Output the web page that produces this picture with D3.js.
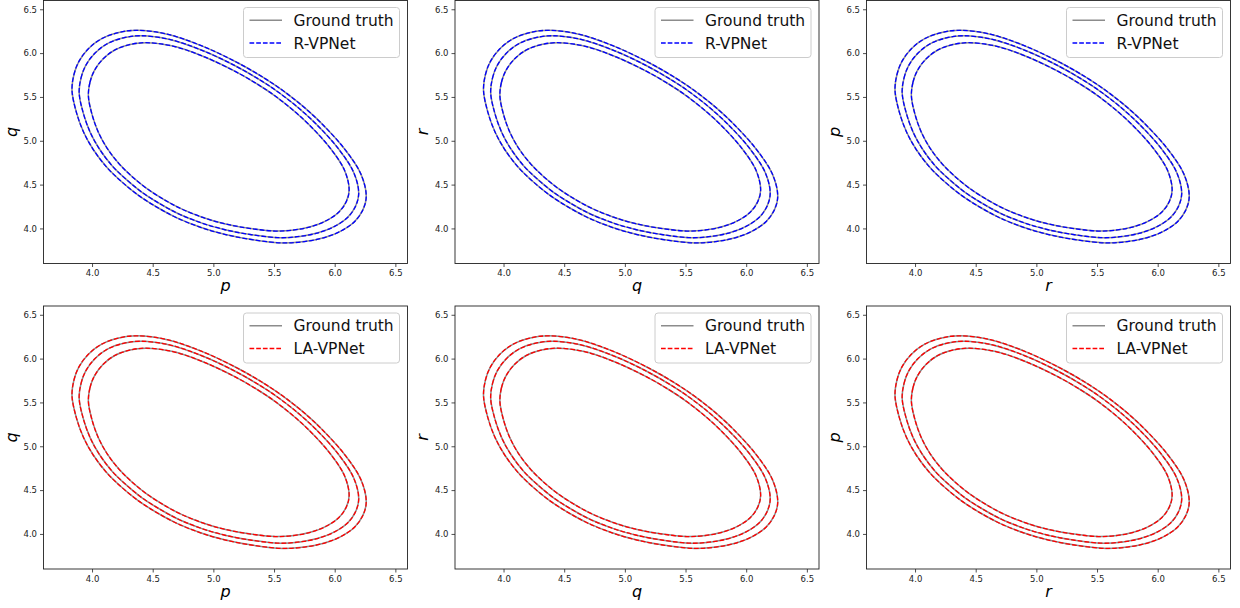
<!DOCTYPE html>
<html>
<head>
<meta charset="utf-8">
<script src="https://cdnjs.cloudflare.com/ajax/libs/d3/7.8.5/d3.min.js"></script>
<style>
	body { margin: 0; background: #fff; }
	svg { display: block; }
</style>
</head>
<body>
<div id="chart"></div>
<script>
// three closed orbits (same shape in every panel)
var orbitOuter = [
	[3.835,5.575],[3.85,5.75],[3.89,5.90],[3.97,6.05],[4.08,6.165],[4.22,6.235],[4.37,6.26],
	[4.62,6.216],[4.90,6.085],[5.20,5.89],[5.42,5.715],[5.573,5.573],[5.715,5.42],[5.89,5.20],
	[6.085,4.90],[6.216,4.62],[6.26,4.37],[6.235,4.22],[6.165,4.08],[6.05,3.97],[5.90,3.89],
	[5.75,3.85],[5.575,3.835],[5.33,3.87],[5.10,3.93],[4.90,4.01],[4.70,4.12],[4.55,4.23],
	[4.38,4.38],[4.23,4.55],[4.12,4.70],[4.01,4.90],[3.93,5.10],[3.87,5.33]
];
var orbitMiddle = [
	[3.894,5.547],[3.909,5.714],[3.947,5.856],[4.023,5.999],[4.127,6.108],[4.260,6.174],[4.403,6.198],
	[4.640,6.156],[4.906,6.032],[5.191,5.847],[5.400,5.680],[5.545,5.545],[5.680,5.400],[5.847,5.191],
	[6.032,4.906],[6.156,4.640],[6.198,4.403],[6.174,4.260],[6.108,4.127],[5.999,4.023],[5.856,3.947],
	[5.714,3.909],[5.547,3.894],[5.315,3.928],[5.096,3.985],[4.906,4.061],[4.716,4.165],[4.574,4.270],
	[4.412,4.412],[4.270,4.574],[4.165,4.716],[4.061,4.906],[3.985,5.096],[3.928,5.315]
];
var orbitInner = [
	[3.970,5.512],[3.983,5.667],[4.019,5.800],[4.090,5.933],[4.187,6.035],[4.311,6.097],[4.444,6.119],
	[4.666,6.080],[4.914,5.964],[5.180,5.791],[5.374,5.636],[5.510,5.510],[5.636,5.374],[5.791,5.180],
	[5.964,4.914],[6.080,4.666],[6.119,4.444],[6.097,4.311],[6.035,4.187],[5.933,4.090],[5.800,4.019],
	[5.667,3.983],[5.512,3.970],[5.295,4.001],[5.091,4.054],[4.914,4.125],[4.737,4.223],[4.604,4.320],
	[4.453,4.453],[4.320,4.604],[4.223,4.737],[4.125,4.914],[4.054,5.091],[4.001,5.295]
];

var tickValues = [4.0, 4.5, 5.0, 5.5, 6.0, 6.5];
var xLabels = ["p", "q", "r"];
var yLabels = ["q", "r", "p"];
var models = ["R-VPNet", "LA-VPNet"];
var modelColors = ["#0000ff", "#ff0000"];
var truthName = "Ground truth";

var W = 1240, H = 608;
var colLeft = [43.5, 455, 866.5];
var rowTop = [0.5, 306];
var pw = 364, ph = 263;

var svg = d3.select("#chart").append("svg")
	.attr("width", W)
	.attr("height", H);

var orbits = [orbitOuter, orbitMiddle, orbitInner];

for (var row = 0; row < 2; row++) {
	for (var col = 0; col < 3; col++) {
		_panel(row, col);
	}
}

function _panel(row, col) {
	var x0 = colLeft[col], y0 = rowTop[row];
	var g = svg.append("g").attr("transform", "translate(" + x0 + "," + y0 + ")");

	var x = d3.scaleLinear().domain([3.6, 6.6]).range([0, pw]);
	var y = d3.scaleLinear().domain([3.6, 6.6]).range([ph, 0]);

	var line = d3.line()
		.x(function(d) { return x(d[0]); })
		.y(function(d) { return y(d[1]); })
		.curve(d3.curveCatmullRomClosed.alpha(0.5));

	//ground truth first, prediction dashed on top
	orbits.forEach(function(o) {
		g.append("path")
			.attr("d", line(o))
			.style("fill", "none")
			.style("stroke", "#8c8c8c")
			.style("stroke-width", 1.5);
	});
	orbits.forEach(function(o) {
		g.append("path")
			.attr("d", line(o))
			.style("fill", "none")
			.style("stroke", modelColors[row])
			.style("stroke-width", 1.3)
			.style("stroke-dasharray", "4.7,2");
	});

	//axes
	var xAxis = d3.axisBottom(x).tickValues(tickValues).tickSize(3.5).tickPadding(3).tickFormat(d3.format(".1f"));
	var yAxis = d3.axisLeft(y).tickValues(tickValues).tickSize(3.5).tickPadding(3).tickFormat(d3.format(".1f"));

	var gx = g.append("g").attr("transform", "translate(0," + ph + ")").call(xAxis);
	var gy = g.append("g").call(yAxis);
	[gx, gy].forEach(function(a) {
		a.select(".domain").remove();
		a.selectAll("line").style("stroke", "#222").style("stroke-width", 0.8);
		a.selectAll("text")
			.style("font-family", "DejaVu Sans")
			.style("font-size", "8.5px")
			.style("fill", "#222");
	});

	//frame
	g.append("rect")
		.attr("width", pw)
		.attr("height", ph)
		.style("fill", "none")
		.style("stroke", "#222")
		.style("stroke-width", 0.9);

	//axis labels
	g.append("text")
		.text(xLabels[col])
		.attr("x", pw / 2)
		.attr("y", ph + 27.5)
		.attr("text-anchor", "middle")
		.style("font-family", "DejaVu Sans")
		.style("font-style", "italic")
		.style("font-size", "16px");
	g.append("text")
		.text(yLabels[col])
		.attr("transform", "translate(-27," + (ph / 2) + ") rotate(-90)")
		.attr("text-anchor", "middle")
		.style("font-family", "DejaVu Sans")
		.style("font-style", "italic")
		.style("font-size", "16px");

	//legend
	var lw = 156, lh = 50;
	var lg = g.append("g").attr("transform", "translate(" + (pw - 8 - lw) + ",7)");
	lg.append("rect")
		.attr("width", lw)
		.attr("height", lh)
		.attr("rx", 3)
		.style("fill", "#fff")
		.style("fill-opacity", 0.8)
		.style("stroke", "#cccccc")
		.style("stroke-width", 1);
	var entries = [
		{name: truthName, color: "#8c8c8c", dash: null},
		{name: models[row], color: modelColors[row], dash: "4.7,2"}
	];
	entries.forEach(function(e, i) {
		var cy = 12.8 + i * 22.7;
		lg.append("line")
			.attr("x1", 6).attr("x2", 38.5)
			.attr("y1", cy).attr("y2", cy)
			.style("stroke", e.color)
			.style("stroke-width", 1.4)
			.style("stroke-dasharray", e.dash);
		lg.append("text")
			.text(e.name)
			.attr("x", 50)
			.attr("y", cy)
			.attr("dy", "0.36em")
			.style("font-family", "DejaVu Sans")
			.style("font-size", "15.5px")
			.style("fill", "#111");
	});
}
</script>
</body>
</html>
